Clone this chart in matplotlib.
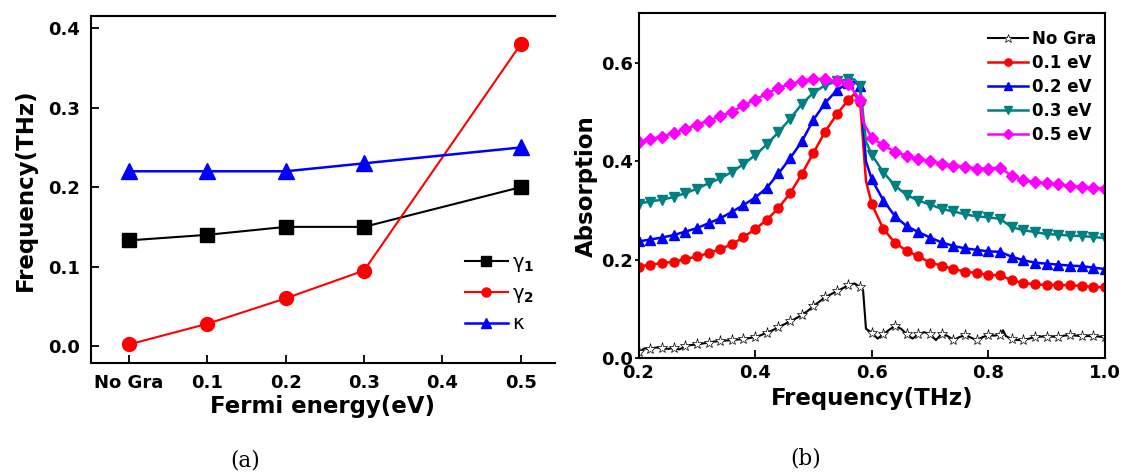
import numpy as np
import matplotlib
matplotlib.use("Agg")
import matplotlib.pyplot as plt

plt.rcParams['font.family'] = ['DejaVu Sans']
plt.rcParams['font.weight'] = 'bold'
plt.rcParams['axes.labelweight'] = 'bold'
plt.rcParams['mathtext.default'] = 'regular'

# --- data (a) ---
fermi = [0.0, 0.1, 0.2, 0.3, 0.5]
fermi_labels = ["No Gra", "0.1", "0.2", "0.3", "0.4", "0.5"]
fermi_ticks = [0.0, 0.1, 0.2, 0.3, 0.4, 0.5]
gamma1 = [0.133, 0.140, 0.150, 0.150, 0.200]
gamma2 = [0.002, 0.028, 0.060, 0.095, 0.380]
kappa = [0.220, 0.220, 0.220, 0.230, 0.250]

# --- data (b) ---
freq_grid = [0.20, 0.22, 0.24, 0.26, 0.28, 0.30, 0.32, 0.34, 0.36, 0.38,
             0.40, 0.42, 0.44, 0.46, 0.48, 0.50, 0.52, 0.54, 0.56, 0.58,
             0.60, 0.62, 0.64, 0.66, 0.68, 0.70, 0.72, 0.74, 0.76, 0.78,
             0.80, 0.82, 0.84, 0.86, 0.88, 0.90, 0.92, 0.94, 0.96, 0.98, 1.00]

abs_01 = [0.186, 0.190, 0.193, 0.196, 0.201, 0.207, 0.213, 0.222, 0.231, 0.246,
          0.262, 0.281, 0.305, 0.335, 0.374, 0.417, 0.460, 0.495, 0.525, 0.520,
          0.313, 0.262, 0.234, 0.218, 0.207, 0.194, 0.188, 0.181, 0.176, 0.173,
          0.169, 0.169, 0.158, 0.153, 0.150, 0.149, 0.149, 0.148, 0.147, 0.145, 0.144]
abs_02 = [0.237, 0.241, 0.245, 0.250, 0.257, 0.264, 0.274, 0.284, 0.297, 0.311,
          0.326, 0.346, 0.375, 0.406, 0.440, 0.484, 0.518, 0.544, 0.559, 0.552,
          0.363, 0.320, 0.288, 0.268, 0.256, 0.245, 0.235, 0.228, 0.223, 0.220,
          0.217, 0.216, 0.206, 0.199, 0.194, 0.192, 0.190, 0.188, 0.187, 0.184, 0.181]
abs_03 = [0.314, 0.318, 0.322, 0.327, 0.335, 0.344, 0.355, 0.365, 0.378, 0.394,
          0.412, 0.434, 0.459, 0.486, 0.516, 0.539, 0.554, 0.562, 0.566, 0.552,
          0.413, 0.377, 0.350, 0.331, 0.320, 0.312, 0.303, 0.298, 0.292, 0.288,
          0.286, 0.283, 0.266, 0.260, 0.256, 0.252, 0.251, 0.249, 0.248, 0.246, 0.244]
abs_05 = [0.438, 0.445, 0.450, 0.457, 0.465, 0.474, 0.482, 0.491, 0.500, 0.513,
          0.525, 0.537, 0.549, 0.556, 0.563, 0.567, 0.566, 0.562, 0.556, 0.525,
          0.447, 0.432, 0.419, 0.411, 0.404, 0.400, 0.395, 0.391, 0.389, 0.385,
          0.385, 0.387, 0.370, 0.361, 0.358, 0.355, 0.353, 0.350, 0.348, 0.346, 0.344]

# body bodu medzi znackami (vrchol a prudky pokles)
extra_01 = ([0.57, 0.59], [0.536, 0.360])
extra_02 = ([0.57, 0.59], [0.561, 0.400])
extra_03 = ([0.57, 0.59], [0.566, 0.440])
extra_05 = ([0.585], [0.480])

# krivka bez grafenu (jemnejsi krok)
nogra_f = [0.20, 0.21, 0.22, 0.23, 0.24, 0.25, 0.26, 0.27, 0.28, 0.29,
           0.30, 0.31, 0.32, 0.33, 0.34, 0.35, 0.36, 0.37, 0.38, 0.39,
           0.40, 0.41, 0.42, 0.43, 0.44, 0.45, 0.46, 0.47, 0.48, 0.49,
           0.50, 0.51, 0.52, 0.53, 0.54, 0.55, 0.56, 0.57, 0.58, 0.585,
           0.59, 0.60, 0.61, 0.62, 0.63, 0.64, 0.65, 0.66, 0.67, 0.68,
           0.69, 0.70, 0.71, 0.72, 0.73, 0.74, 0.75, 0.76, 0.77, 0.78,
           0.79, 0.80, 0.81, 0.82, 0.825, 0.83, 0.84, 0.85, 0.86, 0.87,
           0.88, 0.89, 0.90, 0.91, 0.92, 0.93, 0.94, 0.95, 0.96, 0.97,
           0.98, 0.99, 1.00]
nogra_a = [0.012, 0.020, 0.019, 0.022, 0.021, 0.019, 0.021, 0.018, 0.024, 0.027,
           0.028, 0.030, 0.032, 0.034, 0.035, 0.036, 0.037, 0.038, 0.039, 0.041,
           0.043, 0.047, 0.052, 0.057, 0.063, 0.069, 0.075, 0.081, 0.088, 0.096,
           0.106, 0.115, 0.124, 0.130, 0.136, 0.142, 0.148, 0.152, 0.145, 0.139,
           0.060, 0.052, 0.040, 0.049, 0.058, 0.066, 0.060, 0.049, 0.040, 0.049,
           0.053, 0.049, 0.037, 0.050, 0.045, 0.037, 0.043, 0.047, 0.042, 0.037,
           0.043, 0.047, 0.046, 0.048, 0.057, 0.045, 0.039, 0.037, 0.037, 0.040,
           0.043, 0.044, 0.044, 0.044, 0.044, 0.046, 0.047, 0.046, 0.045, 0.045,
           0.045, 0.044, 0.043]


def merged(values, extra):
    # spojenie bodov mriezky s extra bodmi, znacky len na mriezke
    f = list(freq_grid) + list(extra[0])
    a = list(values) + list(extra[1])
    order = np.argsort(f)
    f = np.array(f)[order]
    a = np.array(a)[order]
    marks = [i for i, j in enumerate(order) if j < len(freq_grid)]
    return f, a, marks


fig = plt.figure(figsize=(11.22, 4.74), dpi=100)

# ---------- (a) ----------
ax1 = fig.add_axes([0.0808, 0.2335, 0.4138, 0.7327])
ax1.plot(fermi, gamma1, "-s", color="black", lw=1.5, ms=10, label=r"γ$_{\mathbf{1}}$")
ax1.plot(fermi, gamma2, "-o", color="red", lw=1.5, ms=10, label=r"γ$_{\mathbf{2}}$")
ax1.plot(fermi, kappa, "-^", color="blue", lw=1.8, ms=11, label="κ")
ax1.set_xlim(-0.049, 0.5437)
ax1.set_ylim(-0.0218, 0.4155)
ax1.set_xticks(fermi_ticks)
ax1.set_xticklabels(fermi_labels)
ax1.set_yticks([0.0, 0.1, 0.2, 0.3, 0.4])
ax1.tick_params(direction="in", length=6, width=1.3, labelsize=13, pad=8)
for s in ["left", "bottom", "top"]:
    ax1.spines[s].set_linewidth(1.5)
ax1.spines["right"].set_visible(False)
ax1.set_xlabel("Fermi energy(eV)", fontsize=16.5, labelpad=2)
ax1.set_ylabel("Frequency(THz)", fontsize=16.5, labelpad=8)
ax1.legend(loc="upper left", bbox_to_anchor=(465 / 1122, 1 - 253 / 474),
           bbox_transform=fig.transFigure, frameon=False, borderpad=0,
           borderaxespad=0, handlelength=2.2, handletextpad=0.2,
           labelspacing=0.5, markerscale=0.65,
           prop={"size": 14, "weight": "normal"})

# ---------- (b) ----------
ax2 = fig.add_axes([0.5691, 0.2441, 0.4158, 0.7278])
ax2.plot(nogra_f, nogra_a, "-", color="black", lw=1.5, marker="*", ms=8,
         mfc="white", mec="black", mew=0.5,
         markevery=[i for i, f in enumerate(nogra_f) if round(f * 100) % 2 == 0 and round(f * 1000) % 10 == 0],
         label="No Gra")
series = [(abs_01, extra_01, "red", "o", 6.5, "0.1 eV"),
          (abs_02, extra_02, "blue", "^", 7.5, "0.2 eV"),
          (abs_03, extra_03, "#008080", "v", 7.5, "0.3 eV"),
          (abs_05, extra_05, "magenta", "D", 6.5, "0.5 eV")]
for vals, extra, col, mk, size, lab in series:
    f, a, marks = merged(vals, extra)
    ax2.plot(f, a, "-", color=col, lw=1.8, marker=mk, ms=size, markevery=marks, label=lab)
ax2.set_xlim(0.2, 1.0)
ax2.set_ylim(0.0, 0.7)
ax2.set_xticks([0.2, 0.4, 0.6, 0.8, 1.0])
ax2.set_xticklabels(["0.2", "0.4", "0.6", "0.8", "1.0"])
ax2.set_yticks([0.0, 0.2, 0.4, 0.6])
ax2.tick_params(axis="x", direction="in", length=6, width=1.3, labelsize=13, pad=4)
ax2.tick_params(axis="y", direction="out", length=3, width=1.3, labelsize=13, pad=1)
for s in ax2.spines.values():
    s.set_linewidth(1.5)
ax2.set_xlabel("Frequency(THz)", fontsize=16.5, labelpad=4)
ax2.set_ylabel("Absorption", fontsize=16.5, labelpad=2)
ax2.legend(loc="upper left", bbox_to_anchor=(988 / 1122, 1 - 30 / 474),
           bbox_transform=fig.transFigure, frameon=False, borderpad=0,
           borderaxespad=0, handlelength=2.4, handletextpad=0.25,
           labelspacing=0.36, markerscale=0.8,
           prop={"size": 12, "weight": "bold"})

# popisky (a), (b)
fig.text(245 / 1122, 1 - 460 / 474, "(a)", family="DejaVu Serif", weight="normal",
         fontsize=15.5, ha="center", va="center")
fig.text(806 / 1122, 1 - 458 / 474, "(b)", family="DejaVu Serif", weight="normal",
         fontsize=15.5, ha="center", va="center")

fig.savefig("out.png", dpi=100)
